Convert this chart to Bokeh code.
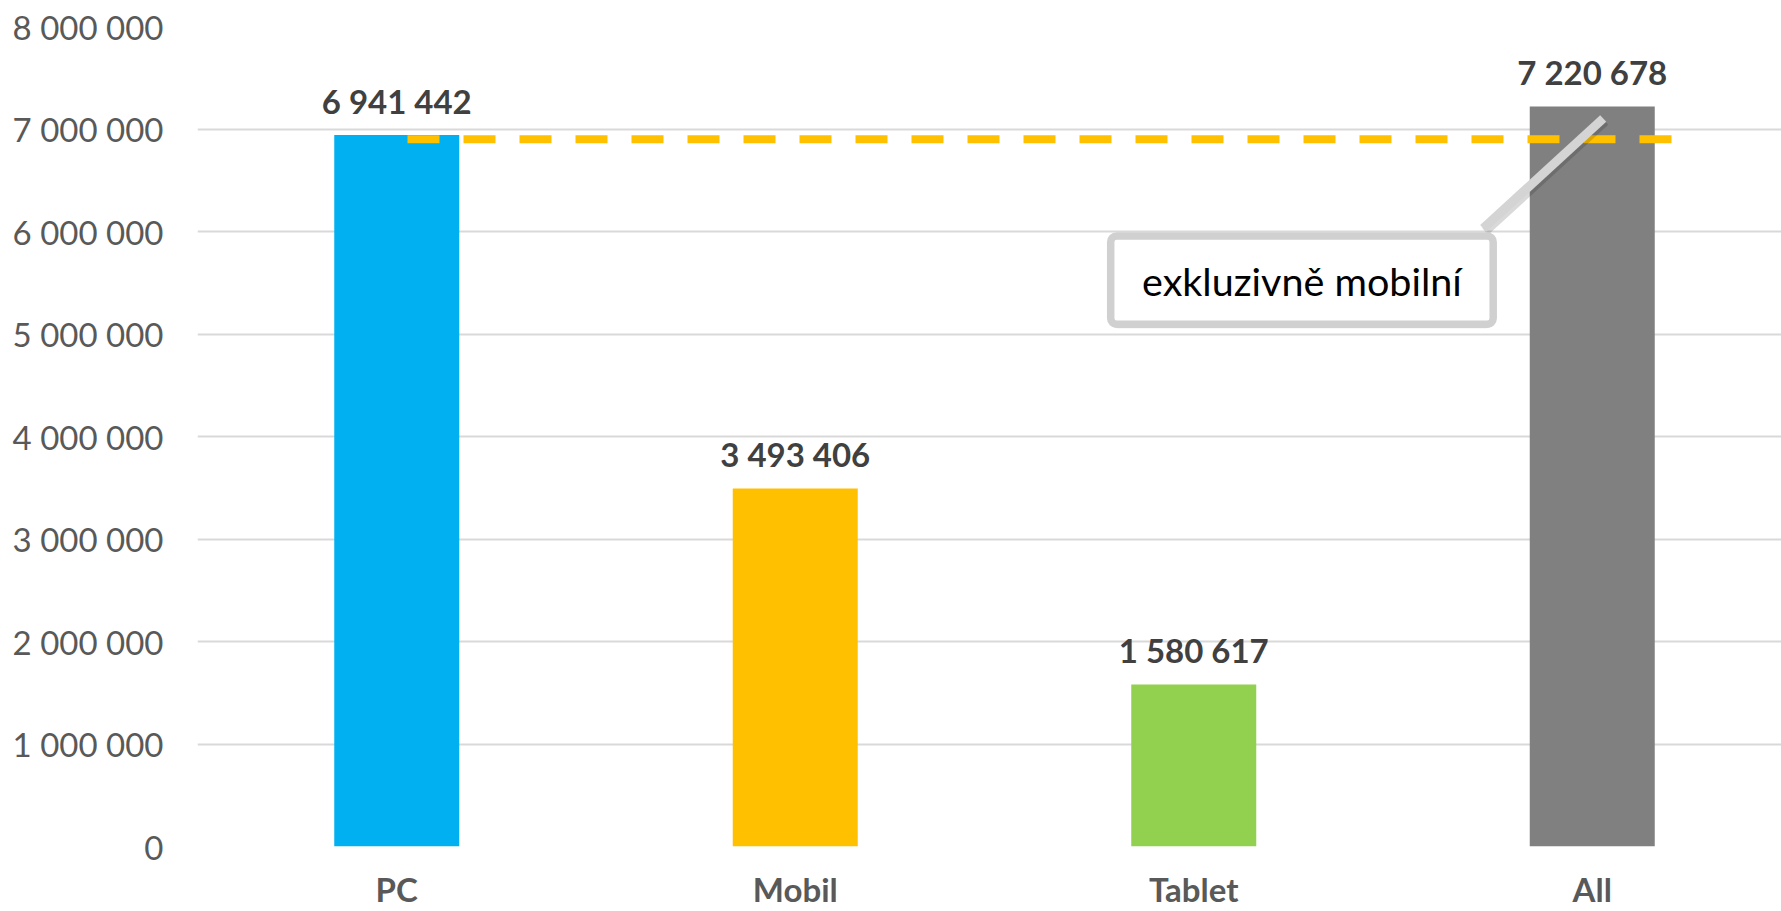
from bokeh.plotting import figure
from bokeh.models import FixedTicker, BoxAnnotation, Range1d, Label
from bokeh.core.properties import value
from bokeh.embed import file_html
from bokeh.resources import INLINE

# ---- data ----
categories = ["PC", "Mobil", "Tablet", "All"]
users = [6941442, 3493406, 1580617, 7220678]
value_labels = ["6 941 442", "3 493 406", "1 580 617", "7 220 678"]
bar_colors = ["#00B0F0", "#FFC000", "#92D050", "#808080"]
y_ticks = [0, 1000000, 2000000, 3000000, 4000000, 5000000, 6000000, 7000000, 8000000]
y_tick_labels = ["0", "1 000 000", "2 000 000", "3 000 000", "4 000 000",
                 "5 000 000", "6 000 000", "7 000 000", "8 000 000"]
mobile_threshold = 6900000
annotation_text = "exkluzivně mobilní"

# ---- layout constants ----
W, H = 1781, 911
LEFT = 197
TOP = 26
X0PX, Y0PX = 197.3, 846.7   # pixel position of x=0 and y=0
CAT_PX = 398.5
Y_PX = 102.6 / 1e6          # pixels per unit value
FONT = value("Lato")

xs = [i + 0.5 for i in range(len(categories))]

p = figure(width=W, height=H, output_backend="svg", toolbar_location=None,
           x_range=Range1d(0, (W - LEFT) / CAT_PX), y_range=Range1d(0, 8000000),
           min_border_left=LEFT, min_border_right=0, min_border_top=TOP,
           min_border_bottom=H - TOP - 821, background_fill_color="white",
           border_fill_color="white", outline_line_color=None)

p.vbar(x=xs, top=users, width=125 / CAT_PX, color=bar_colors, line_color=None)

# value labels
p.text(x=xs, y=users, text=value_labels, text_align="center",
       text_baseline="alphabetic", y_offset=-34, text_font=FONT,
       text_font_style="bold", text_font_size="33px", text_color="#404040")

# dashed threshold line
x0 = (407.3 - X0PX) / CAT_PX
x1 = (1671.7 - X0PX) / CAT_PX
p.line(x=[x0, x1], y=[mobile_threshold, mobile_threshold], line_color="#FFC000",
       line_width=8, line_dash="32 24", line_cap="butt")

# callout box
bl = (1110.5 - X0PX) / CAT_PX
br = (1493.0 - X0PX) / CAT_PX
bt = (Y0PX - 235.5) / Y_PX
bb = (Y0PX - 324.0) / Y_PX
sx, sy = 2 / CAT_PX, 4 / Y_PX
p.add_layout(BoxAnnotation(left=bl - sx * 0.5, right=br + sx * 0.5, top=bt - sy, bottom=bb - sy,
                           fill_color="#000000", fill_alpha=0.12, line_color=None,
                           border_radius=8, level="overlay"))
p.add_layout(BoxAnnotation(left=bl, right=br, top=bt, bottom=bb,
                           fill_color="white", fill_alpha=1.0, line_color="#D0D0D0",
                           line_alpha=1.0, line_width=7.5, border_radius=6, level="overlay"))

# pointer line
px0, py0 = (1483 - X0PX) / CAT_PX, (Y0PX - 228) / Y_PX
px1, py1 = (1603 - X0PX) / CAT_PX, (Y0PX - 118) / Y_PX
p.line(x=[px0 + 2 / CAT_PX, px1 + 2 / CAT_PX], y=[py0 - 3 / Y_PX, py1 - 3 / Y_PX],
       line_color="#000000", line_alpha=0.15, line_width=9, level="overlay")
p.line(x=[px0, px1], y=[py0, py1], line_color="#D4D4D4", line_width=9,
       line_cap="butt", level="overlay")

p.add_layout(Label(x=(1301.7 - X0PX) / CAT_PX, y=(Y0PX - 280.0) / Y_PX, text=annotation_text,
                   text_align="center", text_baseline="alphabetic", text_font="Lato",
                   text_font_size="39.5px", text_color="#000000", level="overlay"))

# axes
p.xaxis.ticker = FixedTicker(ticks=xs)
p.xaxis.major_label_overrides = {x: c for x, c in zip(xs, categories)}
p.xaxis.major_label_text_font = "Lato"
p.xaxis.major_label_text_font_style = "bold"
p.xaxis.major_label_text_font_size = "33px"
p.xaxis.major_label_text_color = "#595959"
p.xaxis.major_label_text_line_height = 0.8
p.xaxis.major_label_standoff = 22
p.xaxis.major_tick_out = 0
p.xaxis.major_tick_in = 0
p.xaxis.axis_line_color = None
p.xaxis.major_tick_line_color = None
p.xaxis.minor_tick_line_color = None

p.yaxis.ticker = FixedTicker(ticks=y_ticks)
p.yaxis.major_label_overrides = {t: l for t, l in zip(y_ticks, y_tick_labels)}
p.yaxis.major_label_text_font = "Lato"
p.yaxis.major_label_text_font_size = "33px"
p.yaxis.major_label_text_color = "#595959"
p.yaxis.major_label_standoff = 34
p.yaxis.major_tick_out = 0
p.yaxis.major_tick_in = 0
p.yaxis.axis_line_color = None
p.yaxis.major_tick_line_color = None
p.yaxis.minor_tick_line_color = None

p.xgrid.grid_line_color = None
p.ygrid.grid_line_color = "#D9D9D9"
p.ygrid.grid_line_width = 2

open("out.html", "w").write(file_html(p, INLINE))
